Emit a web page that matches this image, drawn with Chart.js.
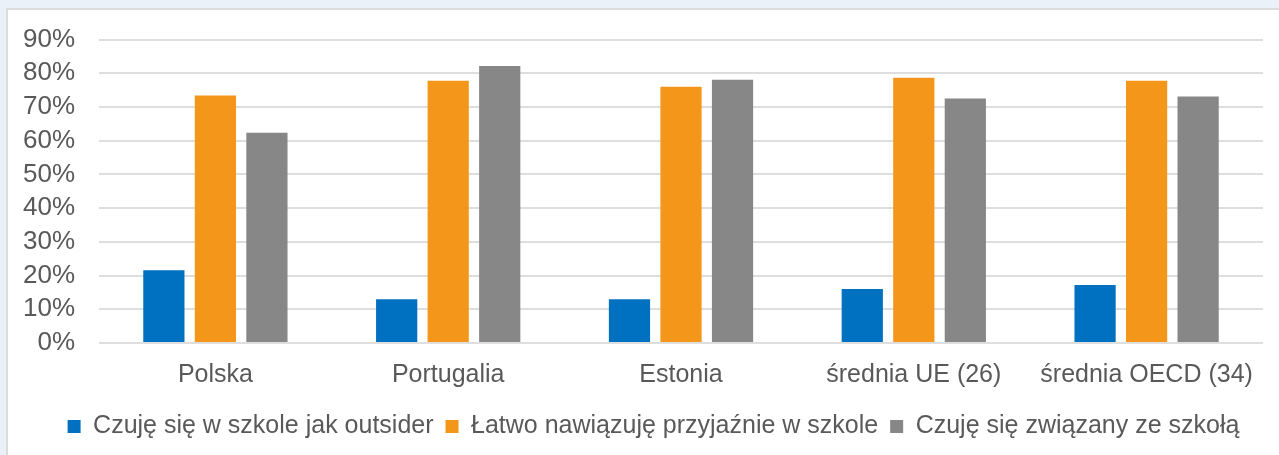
<!DOCTYPE html>
<html>
<head>
<meta charset="utf-8">
<script src="https://cdn.jsdelivr.net/npm/chart.js@4"></script>
<style>
  html, body { margin: 0; padding: 0; background: #eaf1f8; overflow: hidden; }
  #panel { position: absolute; left: 6px; top: 8px; width: 1300px; height: 470px; background: #fff; border: 2px solid #dcdcdc; box-sizing: border-box; }
  #wrap { position: absolute; left: 0; top: 0; width: 1279px; height: 455px; }
</style>
</head>
<body>
<div id="panel"></div>
<div id="wrap"><canvas id="schoolChart"></canvas></div>
<script>
// data
const categories = ['Polska', 'Portugalia', 'Estonia', 'średnia UE (26)', 'średnia OECD (34)'];
const seriesNames = ['Czuję się w szkole jak outsider', 'Łatwo nawiązuję przyjaźnie w szkole', 'Czuję się związany ze szkołą'];
const outsider = [21.6, 13.0, 13.0, 16.0, 17.2];
const friends = [73.4, 77.8, 76.0, 78.7, 77.8];
const connected = [62.4, 82.2, 78.1, 72.5, 73.1];
const colors = ['#0070c0', '#f39619', '#878787'];

const textColor = '#595959';
const fontFamily = '"Liberation Sans", Arial, Helvetica, sans-serif';

// nudge the legend a bit to the right and down, like in the original
const legendShift = {
    id: 'legendShift',
    afterLayout(chart) {
        chart.legend.left += 22;
        chart.legend.right += 22;
        chart.legend.top += 3;
        chart.legend.bottom += 3;
    }
};

function createSchoolChart() {
    const ctx = document.getElementById('schoolChart').getContext('2d');
    new Chart(ctx, {
        type: 'bar',
        data: {
            labels: categories,
            datasets: [outsider, friends, connected].map((values, i) => ({
                label: seriesNames[i],
                data: values,
                backgroundColor: colors[i],
                barPercentage: 0.8,
                categoryPercentage: 0.664
            }))
        },
        options: {
            responsive: true,
            maintainAspectRatio: false,
            animation: false,
            layout: {
                padding: { left: 0, right: 16, top: 23, bottom: 9 }
            },
            scales: {
                x: {
                    grid: { display: false },
                    border: { display: false },
                    ticks: {
                        color: textColor,
                        padding: 9,
                        font: { family: fontFamily, size: 25 }
                    }
                },
                y: {
                    min: 0,
                    max: 90,
                    afterFit: (scale) => { scale.width = 99; },
                    grid: { color: '#dedede', lineWidth: 2, drawTicks: false },
                    border: { display: false },
                    ticks: {
                        stepSize: 10,
                        autoSkip: false,
                        color: textColor,
                        padding: 24,
                        font: { family: fontFamily, size: 26 },
                        callback: (v) => v + '%'
                    }
                }
            },
            plugins: {
                tooltip: { enabled: false },
                legend: {
                    position: 'bottom',
                    labels: {
                        color: textColor,
                        boxWidth: 13,
                        boxHeight: 13,
                        padding: 12,
                        font: { family: fontFamily, size: 25 }
                    }
                }
            }
        },
        plugins: [legendShift]
    });
}

createSchoolChart();
</script>
</body>
</html>
